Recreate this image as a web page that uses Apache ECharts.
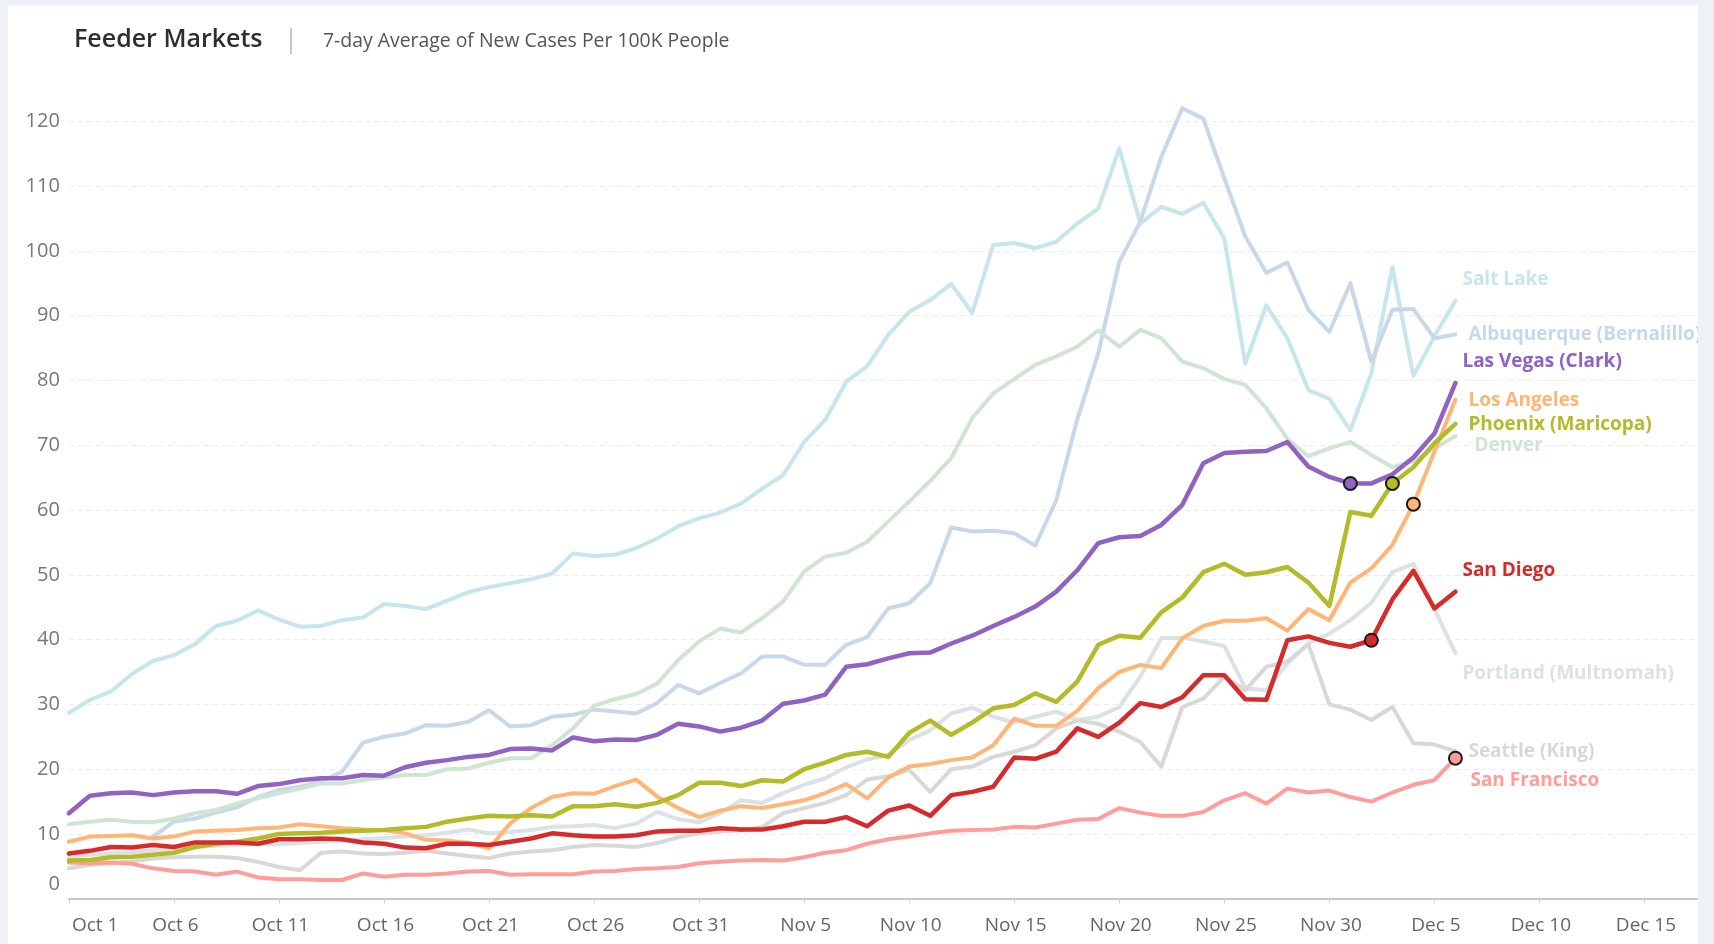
<!DOCTYPE html>
<html><head><meta charset="utf-8">
<script src="https://cdn.jsdelivr.net/npm/echarts@6/dist/echarts.min.js"></script>
<style>
html,body{margin:0;padding:0;background:#eef1f6;width:1714px;height:944px;overflow:hidden;}
#chart{position:absolute;left:8px;top:5px;width:1690px;height:939px;background:#fff;}
</style></head><body><div id="chart"></div>
<script>
// Day index 0 = Oct 1
const xTickLabels = ['Oct 1','Oct 6','Oct 11','Oct 16','Oct 21','Oct 26','Oct 31','Nov 5','Nov 10','Nov 15','Nov 20','Nov 25','Nov 30','Dec 5','Dec 10','Dec 15'];
const yTicks = [0,10,20,30,40,50,60,70,80,90,100,110,120];

const saltLake = [28.7,30.7,32.0,34.7,36.7,37.6,39.3,42.1,42.9,44.5,43.1,42.0,42.1,43.0,43.4,45.5,45.2,44.7,46.0,47.3,48.1,48.7,49.3,50.2,53.3,52.9,53.1,54.1,55.6,57.5,58.7,59.6,61.0,63.3,65.4,70.5,73.9,79.8,82.2,87.0,90.6,92.4,94.9,90.4,100.9,101.2,100.4,101.4,104.2,106.5,115.8,104.2,106.8,105.7,107.4,101.9,82.6,91.6,86.5,78.5,77.2,72.3,81.1,97.5,80.7,86.8,92.3];
const albuquerque = [null,null,null,null,9.6,11.9,12.4,13.3,14.1,15.7,16.8,17.3,18.1,19.6,24.1,25.0,25.5,26.8,26.7,27.3,29.1,26.6,26.8,28.1,28.4,29.2,28.9,28.6,30.2,33.0,31.7,33.3,34.8,37.4,37.4,36.1,36.1,39.2,40.4,44.8,45.6,48.7,57.3,56.7,56.8,56.4,54.5,61.5,74.0,84.2,98.3,104.5,114.5,122.0,120.4,111.2,102.2,96.6,98.2,90.9,87.5,95.0,82.9,90.9,91.0,86.5,87.1];
const denver = [11.5,11.9,12.2,11.9,11.8,12.4,13.2,13.7,14.7,15.5,16.3,17.0,17.8,17.8,18.3,18.7,19.1,19.1,20.0,20.1,21.0,21.7,21.7,23.7,26.3,29.8,30.8,31.6,33.2,36.8,39.7,41.7,41.1,43.3,45.9,50.5,52.8,53.4,55.1,58.2,61.3,64.5,68.0,74.2,78.0,80.2,82.4,83.7,85.2,87.7,85.2,87.8,86.5,82.9,81.9,80.2,79.3,75.7,71.0,68.3,69.5,70.5,68.5,66.6,67.5,69.5,71.4];
const lasVegas = [13.2,15.9,16.3,16.4,16.0,16.4,16.6,16.6,16.2,17.4,17.7,18.3,18.6,18.6,19.1,19.0,20.3,21.0,21.4,21.9,22.2,23.1,23.2,22.9,24.9,24.3,24.6,24.5,25.3,27.0,26.6,25.8,26.4,27.5,30.1,30.6,31.5,35.8,36.2,37.1,37.9,38.0,39.4,40.6,42.1,43.5,45.1,47.4,50.7,54.9,55.8,56.0,57.7,60.8,67.2,68.8,69.0,69.1,70.5,66.7,65.1,64.1,64.1,65.5,68.1,71.8,79.6];
const losAngeles = [8.8,9.6,9.7,9.8,9.3,9.6,10.4,10.5,10.6,10.9,11.0,11.5,11.2,10.9,10.7,10.6,10.1,9.1,9.0,8.6,7.8,11.6,14.0,15.7,16.3,16.2,17.4,18.4,15.8,14.0,12.6,13.6,14.3,14.0,14.6,15.2,16.3,17.7,15.5,18.7,20.4,20.8,21.4,21.8,23.7,27.8,26.7,26.7,29.0,32.5,35.0,36.1,35.6,40.2,42.1,42.9,42.9,43.3,41.4,44.7,43.0,48.8,51.0,54.6,60.9,69.0,77.0];
const phoenix = [5.9,6.0,6.4,6.5,6.8,7.1,8.0,8.5,8.8,9.3,10.0,10.1,10.2,10.4,10.5,10.6,10.9,11.1,11.9,12.4,12.8,12.7,12.9,12.7,14.3,14.3,14.6,14.2,14.8,16.0,17.9,17.9,17.4,18.3,18.1,20.0,21.0,22.2,22.7,21.9,25.6,27.5,25.3,27.2,29.4,29.9,31.7,30.4,33.5,39.2,40.6,40.3,44.2,46.5,50.4,51.7,50.0,50.4,51.2,48.8,45.2,59.7,59.1,64.1,66.6,70.3,73.3];
const sanDiego = [7.0,7.4,8.0,7.9,8.3,8.0,8.7,8.7,8.7,8.5,9.2,9.2,9.3,9.2,8.7,8.5,7.9,7.8,8.5,8.5,8.3,8.8,9.3,10.1,9.8,9.6,9.6,9.8,10.4,10.5,10.5,10.9,10.7,10.7,11.2,11.9,11.9,12.6,11.2,13.6,14.4,12.8,16.0,16.5,17.3,21.8,21.6,22.7,26.3,25.0,27.2,30.2,29.6,31.1,34.5,34.5,30.8,30.7,39.9,40.5,39.5,38.9,39.9,46.2,50.6,44.8,47.4];
const portland = [6.5,6.8,7.0,7.2,7.5,7.8,8.0,8.2,8.3,8.5,8.4,8.6,8.8,9.0,9.2,9.4,9.6,9.8,10.2,10.7,10.1,10.3,10.6,11.1,11.2,11.4,10.9,11.6,13.4,12.3,11.8,13.2,15.2,14.8,16.3,17.6,18.6,20.3,21.5,22.2,24.5,26.0,28.6,29.5,28.1,27.2,28.1,28.9,27.6,28.1,29.6,34.3,40.2,40.3,39.7,39.0,32.5,32.2,36.3,39.4,40.9,43.0,45.7,50.4,51.7,44.7,37.9];
const seattle = [4.7,5.2,5.5,5.8,6.2,6.4,6.5,6.5,6.3,5.7,4.9,4.4,7.1,7.3,7.0,6.9,7.1,7.4,7.0,6.6,6.3,7.0,7.3,7.5,8.0,8.3,8.2,8.0,8.6,9.5,10.1,10.4,10.6,11.1,13.2,14.0,14.8,16.0,18.4,18.9,19.9,16.5,20.0,20.4,21.9,22.7,23.7,26.3,27.5,27.0,25.8,24.2,20.4,29.6,30.9,34.3,32.2,35.8,36.6,39.3,30.0,29.2,27.6,29.6,24.0,23.8,22.8];
const sanFrancisco = [5.6,5.5,5.6,5.4,4.7,4.3,4.2,3.7,4.2,3.3,3.0,3.0,2.9,2.9,3.9,3.4,3.7,3.7,3.9,4.2,4.3,3.7,3.8,3.8,3.8,4.2,4.3,4.6,4.7,4.9,5.5,5.7,5.9,6.0,5.9,6.4,7.1,7.5,8.5,9.2,9.6,10.1,10.5,10.6,10.7,11.1,11.0,11.6,12.2,12.3,14.0,13.3,12.8,12.8,13.4,15.2,16.3,14.7,17.0,16.4,16.7,15.7,15.0,16.4,17.6,18.3,21.7];

// highlighted day index per series (marked with a circle)
const highlightLasVegas = 61, highlightSanDiego = 62, highlightPhoenix = 63, highlightLosAngeles = 64, highlightSanFrancisco = 66;

const cities = [
  {name:'Salt Lake', data:saltLake, color:'#c6e6eb', off:[0,-21], w:4},
  {name:'Albuquerque (Bernalillo)', data:albuquerque, color:'#c8d8e8', off:[6,0], w:4},
  {name:'Denver', data:denver, color:'#cfe4d1', off:[12,9], w:4},
  {name:'Portland (Multnomah)', data:portland, color:'#dae2e6', off:[0,20], w:4},
  {name:'Seattle (King)', data:seattle, color:'#d8d8d8', off:[6,1], w:4},
  {name:'San Francisco', data:sanFrancisco, color:'#ff9d9b', off:[8,22], w:4, hi:highlightSanFrancisco},
  {name:'Los Angeles', data:losAngeles, color:'#ffb576', off:[6,1], w:4, hi:highlightLosAngeles},
  {name:'Phoenix (Maricopa)', data:phoenix, color:'#b3bb28', off:[6,1], w:4.5, hi:highlightPhoenix},
  {name:'San Diego', data:sanDiego, color:'#d62a2b', off:[0,-21], w:4.5, hi:highlightSanDiego},
  {name:'Las Vegas (Clark)', data:lasVegas, color:'#9062c2', off:[0,-21], w:4.5, hi:highlightLasVegas}
];

const FONT = '"Open Sans", sans-serif';
const series = [];
cities.forEach(c => {
  series.push({
    name: c.name, type: 'line', data: c.data.map((v,i)=>[i,v]),
    showSymbol: false, symbol: 'none', clip: false, smooth: false,
    lineStyle: {color: c.color, width: c.w, cap:'round', join:'round'},
    itemStyle: {color: c.color},
    emphasis: {disabled: true},
    endLabel: {show: true, formatter: p => p.seriesName, color: c.color, fontFamily: FONT,
      fontWeight: 'bold', fontSize: 19, distance: 7, offset: c.off},
    z: 2
  });
});
cities.filter(c => c.hi !== undefined).forEach(c => {
  series.push({
    type: 'scatter', data: [[c.hi, c.data[c.hi]]], symbol: 'circle', symbolSize: 13,
    itemStyle: {color: c.color, borderColor: '#1a1a1a', borderWidth: 2, opacity: 1},
    emphasis: {disabled: true}, z: 5, silent: true
  });
});

const tickVals = xTickLabels.map((_, i) => i*5);
const chart = echarts.init(document.getElementById('chart'), null, {renderer:'canvas'});
chart.setOption({
  animation: false,
  backgroundColor: '#fff',
  graphic: [
    {type:'text', left: 66, top: 22, style:{text:'Feeder Markets', font:'600 25px "Open Sans", sans-serif', fill:'#2e2e2e'}},
    {type:'line', shape:{x1:283, y1:23, x2:283, y2:49}, style:{stroke:'#b5b5b5', lineWidth:1.5}},
    {type:'text', left: 315, top: 27, style:{text:'7-day Average of New Cases Per 100K People', font:'19.4px "Open Sans", sans-serif', fill:'#555'}}
  ],
  grid: {left: 60.9, right: 1, top: 116.2, bottom: 45.2, containLabel: false},
  xAxis: {
    type: 'value', min: 0, max: 77.5,
    axisLine: {show: true, lineStyle: {color: '#c8c8c8', width: 2}},
    axisTick: {show: true, customValues: tickVals, length: 5, lineStyle:{color:'#d5d5d5'}},
    axisLabel: {customValues: tickVals, formatter: v => xTickLabels[Math.round(v/5)] || '',
      align: 'center', alignMinLabel: 'left', padding: [0,0,0,3], margin: 17, color: '#666', fontSize: 19, fontFamily: FONT},
    splitLine: {show: false}
  },
  yAxis: {
    type: 'value', min: 0, max: 120, interval: 10,
    axisLine: {show: false}, axisTick: {show: false},
    axisLabel: {margin: 9, color: '#777', fontSize: 20, fontFamily: FONT,
      formatter: v => v === 0 ? '{z|0}' : String(v),
      rich: {z: {padding: [0,0,30,0], fontSize: 20, color: '#777', fontFamily: FONT}}},
    splitLine: {show: true, lineStyle: {color: '#ececec', type: [5,4], width: 1}}
  },
  series: series
});
</script></body></html>
